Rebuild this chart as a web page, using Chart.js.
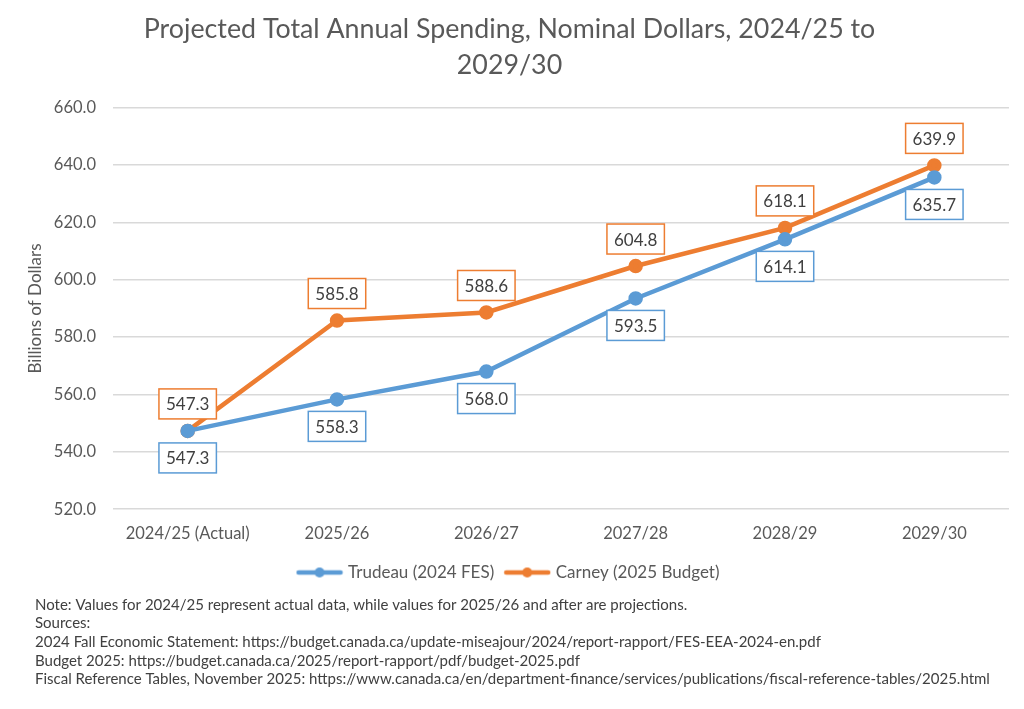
<!DOCTYPE html>
<html>
<head>
<meta charset="utf-8">
<script src="https://cdn.jsdelivr.net/npm/chart.js@4.4.1/dist/chart.umd.min.js"></script>
<style>
  html, body { margin: 0; padding: 0; background: #fff; }
  #wrap { position: relative; width: 1024px; height: 709px; }
</style>
</head>
<body>
<div id="wrap"><canvas id="chart"></canvas></div>
<script>
const categories = ['2024/25 (Actual)', '2025/26', '2026/27', '2027/28', '2028/29', '2029/30'];
const trudeau = [547.3, 558.3, 568.0, 593.5, 614.1, 635.7];
const carney = [547.3, 585.8, 588.6, 604.8, 618.1, 639.9];
const notes = [
  'Note: Values for 2024/25 represent actual data, while values for 2025/26 and after are projections.',
  'Sources:',
  '2024 Fall Economic Statement: https://budget.canada.ca/update-miseajour/2024/report-rapport/FES-EEA-2024-en.pdf',
  'Budget 2025: https://budget.canada.ca/2025/report-rapport/pdf/budget-2025.pdf',
  'Fiscal Reference Tables, November 2025: https://www.canada.ca/en/department-finance/services/publications/fiscal-reference-tables/2025.html'
];

const BLUE = '#5B9BD5';
const ORANGE = '#ED7D31';
const GREY = '#595959';
const FONT = 'Lato, "Open Sans", sans-serif';

// small line+dot marker for the legend
function legendMarker(color) {
  const c = document.createElement('canvas');
  c.width = 48; c.height = 12;
  const ctx = c.getContext('2d');
  ctx.strokeStyle = color;
  ctx.lineWidth = 4.5;
  ctx.lineCap = 'round';
  ctx.beginPath(); ctx.moveTo(3, 6); ctx.lineTo(45, 6); ctx.stroke();
  ctx.fillStyle = color;
  ctx.beginPath(); ctx.arc(24, 6, 5, 0, Math.PI * 2); ctx.fill();
  return c;
}

// boxed value labels: blue below the point, orange above
const boxLabels = {
  id: 'boxLabels',
  afterDatasetsDraw(chart) {
    const ctx = chart.ctx;
    ctx.save();
    ctx.font = '17px ' + FONT;
    ctx.textAlign = 'center';
    ctx.textBaseline = 'middle';
    chart.data.datasets.forEach((ds, di) => {
      const meta = chart.getDatasetMeta(di);
      const dir = di === 0 ? 1 : -1;
      meta.data.forEach((pt, i) => {
        const txt = ds.data[i].toFixed(1);
        const w = ctx.measureText(txt).width + 14;
        const hgt = 30;
        const cx = pt.x;
        const cy = pt.y + dir * 27;
        ctx.fillStyle = '#fff';
        ctx.fillRect(cx - w / 2, cy - hgt / 2, w, hgt);
        ctx.strokeStyle = ds.borderColor;
        ctx.lineWidth = 1.5;
        ctx.strokeRect(cx - w / 2, cy - hgt / 2, w, hgt);
        ctx.fillStyle = '#404040';
        ctx.fillText(txt, cx, cy + 1);
      });
    });
    ctx.restore();
  }
};

const notesPlugin = {
  id: 'notes',
  afterDraw(chart) {
    const ctx = chart.ctx;
    ctx.save();
    ctx.font = '15px ' + FONT;
    ctx.fillStyle = '#404040';
    ctx.textBaseline = 'middle';
    notes.forEach((line, i) => {
      ctx.fillText(line, 35, 605 + i * 18.6);
    });
    ctx.restore();
  }
};

new Chart(document.getElementById('chart'), {
  type: 'line',
  data: {
    labels: categories,
    datasets: [
      {
        label: 'Trudeau (2024 FES)',
        data: trudeau,
        borderColor: BLUE,
        backgroundColor: BLUE,
        borderWidth: 4.5,
        pointRadius: 5,
        pointHoverRadius: 5,
        tension: 0
      },
      {
        label: 'Carney (2025 Budget)',
        data: carney,
        borderColor: ORANGE,
        backgroundColor: ORANGE,
        borderWidth: 4.5,
        pointRadius: 5,
        pointHoverRadius: 5,
        tension: 0
      }
    ]
  },
  options: {
    responsive: true,
    maintainAspectRatio: false,
    animation: false,
    layout: { padding: { left: 10, right: 15, top: 8, bottom: 118 } },
    scales: {
      x: {
        offset: true,
        grid: { display: false },
        border: { display: false },
        ticks: { color: GREY, font: { family: FONT, size: 16.5 }, padding: 7, maxRotation: 0 }
      },
      y: {
        min: 520,
        max: 660,
        afterFit(axis) { axis.width = 103; },
        grid: { color: '#D9D9D9', lineWidth: 1.5, drawTicks: false },
        border: { display: false },
        ticks: {
          stepSize: 20,
          color: GREY,
          font: { family: FONT, size: 16.5 },
          padding: 17,
          callback: v => v.toFixed(1)
        },
        title: {
          display: true,
          text: 'Billions of Dollars',
          color: GREY,
          font: { family: FONT, size: 17 },
          padding: { top: 15, bottom: 0 }
        }
      }
    },
    plugins: {
      title: {
        display: true,
        text: ['Projected Total Annual Spending, Nominal Dollars, 2024/25 to', '2029/30'],
        color: GREY,
        font: { family: FONT, size: 26.8, weight: 'normal', lineHeight: 1.32 },
        padding: { top: 4, bottom: 25 }
      },
      legend: {
        position: 'bottom',
        labels: {
          color: GREY,
          font: { family: FONT, size: 17 },
          usePointStyle: true,
          pointStyleWidth: 40,
          padding: 13,
          generateLabels(chart) {
            const items = Chart.defaults.plugins.legend.labels.generateLabels(chart);
            items.forEach(it => {
              it.pointStyle = legendMarker(chart.data.datasets[it.datasetIndex].borderColor);
            });
            return items;
          }
        }
      },
      tooltip: { enabled: false }
    }
  },
  plugins: [boxLabels, notesPlugin]
});
</script>
</body>
</html>
